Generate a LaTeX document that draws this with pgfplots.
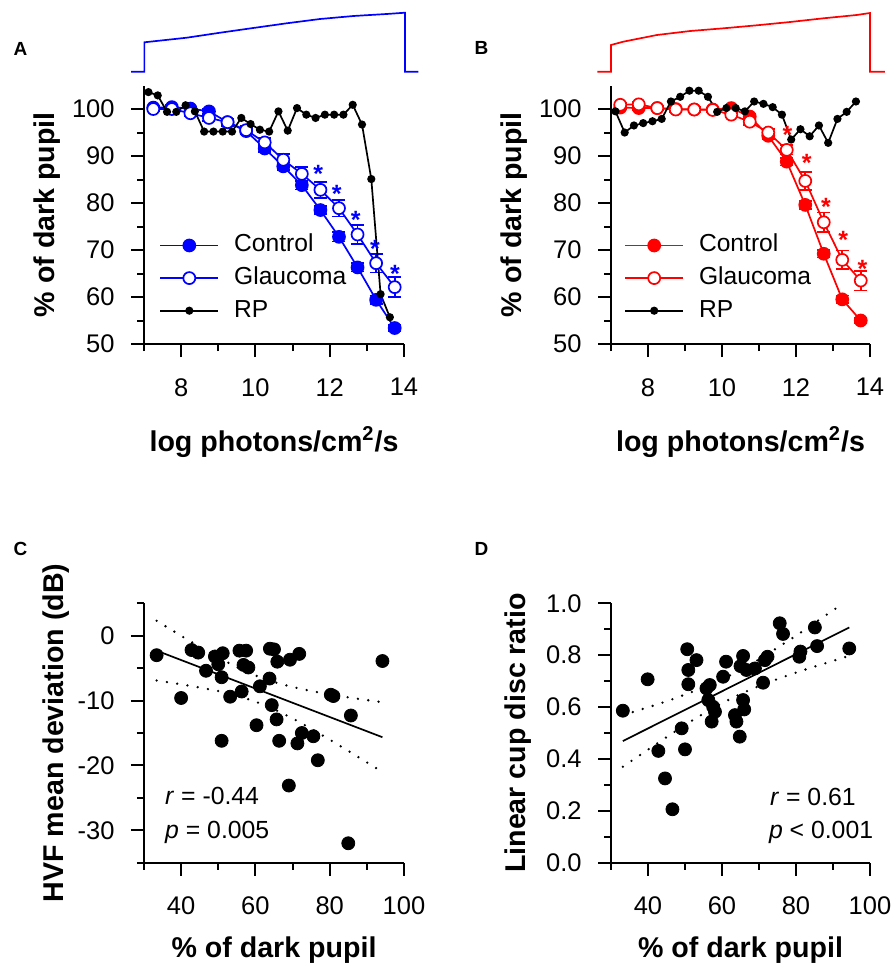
\documentclass[border=0pt]{standalone}
\usepackage{fontspec}
\setmainfont{Liberation Sans}
\usepackage{pgfplots}
\pgfplotsset{compat=1.18}

\definecolor{pblue}{RGB}{0,0,255}
\definecolor{pred}{RGB}{255,0,0}

\tikzset{
  note/.style={anchor=base west, font=\fontsize{12.4}{15}\selectfont},
  letter/.style={font=\fontsize{9.5}{11}\selectfont\bfseries},
}

% 1 px of the reference = 0.5pt
\pgfplotsset{
  panel/.style={
    scale only axis, clip=false,
    axis lines=left,
    axis line style={-, line width=1pt},
    tick align=outside,
    major tick length=6.5pt, minor tick length=3.5pt,
    tick style={black, line width=1pt},
    tick label style={font=\fontsize{12.75}{15}\selectfont, inner sep=0pt},
    xticklabel shift=10.5pt, yticklabel shift=8pt,
    /pgf/number format/assume math mode=true,
    every axis y label/.style={at={(axis description cs:0,0.5)},
      anchor=center, inner sep=0pt, font=\fontsize{14.3}{17}\selectfont\bfseries},
    every axis x label/.style={at={(axis description cs:0.5,0)},
      anchor=base, inner sep=0pt, font=\fontsize{14.3}{17}\selectfont\bfseries},
  },
  toppanel/.style={panel,
    xmin=7, xmax=14, ymin=50, ymax=105,
    xtick={8,10,12,14}, minor xtick={7,9,11,13},
    ytick={50,60,...,100}, minor ytick={55,65,...,95},
    xlabel={log photons/cm\textsuperscript{2}/s},
    ylabel={\% of dark pupil},
    xlabel style={yshift=-53.5pt}, ylabel style={xshift=-48.25pt, rotate=90},
    legend style={draw=none, fill=none, anchor=west, inner sep=0pt,
      font=\fontsize{12.3}{14}\selectfont, row sep=4.8pt,
      nodes={inner sep=0pt, text height=9pt, text depth=2.5pt},
      /tikz/every odd column/.append style={column sep=7.5pt}},
    legend cell align=left,
    legend image code/.code={\draw[mark repeat=2,mark phase=2,##1]
      plot coordinates {(0pt,0pt) (14.5pt,0pt) (29pt,0pt)};},
  },
  botpanel/.style={panel,
    xmin=30, xmax=100,
    xtick={40,60,80,100}, minor xtick={30,50,70,90},
    xlabel={\% of dark pupil}, xlabel style={yshift=-47.15pt},
  },
  trace/.style={scale only axis, hide axis, clip=false,
    xmin=7, xmax=14, ymin=0, ymax=59, height=29.5pt},
  ebar/.style={forget plot, draw=none, mark=none,
    error bars/.cd, y dir=both, y explicit,
    error bar style={draw=#1, solid, line width=0.85pt},
    error mark options={rotate=90, draw=#1, mark size=3.25pt, line width=0.85pt}},
  ctrl/.style={#1, line width=0.85pt, mark=*, mark size=3pt,
    mark options={fill=#1, line width=0.85pt}},
  glau/.style={#1, line width=0.85pt, mark=*, mark size=3pt,
    mark options={fill=white, line width=0.85pt}},
  rp/.style={black, line width=0.85pt, mark=*, mark size=1.6pt},
  star/.style={only marks, mark=text, text mark={*}, text mark as node=true,
    text mark style={font=\fontsize{12.5}{14}\selectfont\bfseries, text=#1,
      anchor=center, inner sep=0pt, yshift=-2.8pt}},
  band/.style={black, line width=1.3pt, dash pattern=on 0pt off 5.2pt, line cap=round},
}

\pgfplotstableread{
x y e
7.25 100.3 0.4
7.75 100.4 0.4
8.25 100.1 0.4
8.75 99.5 0.5
9.25 97.2 0.5
9.75 95.3 0.6
10.25 91.6 0.7
10.75 87.8 0.8
11.25 83.8 0.9
11.75 78.5 0.9
12.25 72.8 1.0
12.75 66.3 0.9
13.25 59.4 0.9
13.75 53.4 0.7
}\ctrlA
\pgfplotstableread{
x y e
7.25 100.0 0.5
7.75 100.0 0.5
8.25 99.1 0.6
8.75 98.1 0.7
9.25 97.2 0.8
9.75 95.5 0.9
10.25 92.9 1.0
10.75 89.2 1.3
11.25 86.2 1.5
11.75 82.8 1.7
12.25 78.9 1.8
12.75 73.3 2.0
13.25 67.2 2.0
13.75 62.1 2.1
}\glauA
\pgfplotstableread{
x y
7.12 103.6
7.37 102.9
7.62 99.4
7.87 99.4
8.12 100.8
8.37 99.5
8.62 95.2
8.87 95.2
9.12 95.2
9.37 95.2
9.62 98.1
9.87 96.8
10.12 95.6
10.37 95.2
10.62 99.5
10.87 95.4
11.12 100.2
11.37 98.8
11.62 98.1
11.87 98.8
12.12 98.8
12.37 98.8
12.62 100.9
12.87 96.7
13.12 85.1
13.37 60.6
13.62 55.7
}\rpA
\pgfplotstableread{
x y e
7.25 100.3 0.4
7.75 100.2 0.4
8.25 100.2 0.4
8.75 100.0 0.4
9.25 99.9 0.4
9.75 99.9 0.4
10.25 100.2 0.5
10.75 98.4 0.5
11.25 94.3 0.7
11.75 88.8 0.8
12.25 79.6 0.8
12.75 69.2 0.8
13.25 59.5 0.8
13.75 55.0 0.6
}\ctrlB
\pgfplotstableread{
x y e
7.25 100.9 0.5
7.75 101.0 0.5
8.25 100.2 0.5
8.75 99.9 0.5
9.25 99.9 0.5
9.75 99.8 0.5
10.25 98.8 0.6
10.75 97.3 0.7
11.25 95.0 0.8
11.75 91.3 1.0
12.25 84.7 1.9
12.75 75.9 2.1
13.25 67.9 2.0
13.75 63.5 2.1
}\glauB
\pgfplotstableread{
x y
7.12 99.5
7.37 95.0
7.62 96.5
7.87 97.0
8.12 97.4
8.37 97.9
8.62 101.6
8.87 102.6
9.12 103.9
9.37 103.9
9.62 102.6
9.87 99.4
10.12 100.2
10.37 100.2
10.62 99.5
10.87 101.6
11.12 101.1
11.37 100.4
11.62 98.8
11.87 93.5
12.12 95.7
12.37 94.2
12.62 96.5
12.87 92.8
13.12 97.9
13.37 99.4
13.62 101.6
}\rpB
\pgfplotstableread{
x y
33.4 -3.0
40.0 -9.6
42.8 -2.2
44.6 -2.6
46.7 -5.4
49.1 -3.2
51.2 -2.7
50.0 -4.4
50.9 -6.4
50.9 -16.2
53.2 -9.4
55.7 -2.3
57.5 -2.3
56.8 -4.5
58.1 -4.9
56.3 -8.6
60.3 -13.8
61.2 -7.8
63.8 -6.6
63.9 -2.0
65.0 -2.1
64.4 -10.7
65.7 -12.9
65.9 -4.0
66.4 -16.2
69.3 -3.7
71.8 -2.8
69.0 -23.1
72.5 -15.0
71.3 -16.6
75.6 -15.5
76.8 -19.2
80.3 -9.1
81.0 -9.3
85.7 -12.3
85.0 -32.0
94.2 -3.9
}\hvf
\pgfplotstableread{
x y
33.2 0.586
39.9 0.707
42.8 0.431
44.6 0.325
46.6 0.206
49.1 0.518
50.0 0.437
50.6 0.823
53.1 0.781
50.9 0.743
50.9 0.688
55.8 0.672
56.7 0.685
56.3 0.627
57.6 0.601
58.1 0.582
57.2 0.544
60.3 0.717
61.1 0.775
63.5 0.569
63.9 0.544
64.8 0.486
65.7 0.627
66.0 0.591
65.7 0.797
65.0 0.758
66.6 0.743
68.9 0.749
71.1 0.694
71.6 0.781
72.3 0.794
75.6 0.923
76.5 0.882
80.9 0.794
81.2 0.814
85.1 0.907
85.7 0.835
94.4 0.826
}\cdr

\begin{document}
\begin{tikzpicture}
\path[use as bounding box] (0,0) rectangle (447.5pt,-482.5pt);

\node[letter] at (10.25pt,-24.5pt) {A};
\node[letter] at (240.75pt,-23.75pt) {B};
\node[letter] at (10.25pt,-274.35pt) {C};
\node[letter] at (240.75pt,-274.35pt) {D};

% stimulus traces
\begin{axis}[trace, at={(72pt,-35.85pt)}, anchor=south west, width=130pt]
\addplot[pblue, line width=0.85pt] coordinates {
(6.65,0) (7.01,0) (7.01,29.4) (8.15,34) (9.05,39) (9.94,43.7) (10.84,48.4)
(11.74,52.7) (12.64,55.7) (13.53,57.7) (14.03,59) (14.03,0) (14.39,0)};
\end{axis}
\begin{axis}[trace, at={(305.5pt,-35.85pt)}, anchor=south west, width=129.5pt]
\addplot[pred, line width=0.85pt] coordinates {
(6.63,0) (7,0) (7,26.7) (7.33,30) (8.24,36.7) (9.14,40.7) (10.04,43.4)
(10.94,46.4) (11.84,49.7) (12.74,53.4) (13.64,56.7) (14,58.7) (14,0) (14.4,0)};
\end{axis}

% panel A
\begin{axis}[toppanel, at={(72pt,-172pt)}, anchor=south west,
  width=130pt, height=129.25pt,
  legend style={at={(0.058,0.255)}}]
\addplot[ebar=pblue] table[x=x, y=y, y error=e] {\ctrlA};
\addplot[ctrl=pblue] table[x=x, y=y] {\ctrlA};
\addlegendentry{Control}
\addplot[ebar=pblue] table[x=x, y=y, y error=e] {\glauA};
\addplot[glau=pblue] table[x=x, y=y] {\glauA};
\addlegendentry{Glaucoma}
\addplot[rp] table[x=x, y=y] {\rpA};
\addlegendentry{RP}
\addplot[star=pblue, forget plot] coordinates {
(11.69,87.4) (12.19,83.2) (12.70,77.5) (13.22,71.5) (13.76,66.2)};
\end{axis}

% panel B
\begin{axis}[toppanel, at={(305.5pt,-172pt)}, anchor=south west,
  width=129.5pt, height=129.25pt,
  legend style={at={(0.05,0.255)}}]
\addplot[ebar=pred] table[x=x, y=y, y error=e] {\ctrlB};
\addplot[ctrl=pred] table[x=x, y=y] {\ctrlB};
\addlegendentry{Control}
\addplot[ebar=pred] table[x=x, y=y, y error=e] {\glauB};
\addplot[glau=pred] table[x=x, y=y] {\glauB};
\addlegendentry{Glaucoma}
\addplot[rp] table[x=x, y=y] {\rpB};
\addlegendentry{RP}
\addplot[star=pred, forget plot] coordinates {
(11.77,95.6) (12.29,89.8) (12.81,80.4) (13.28,73.3) (13.80,67.2)};
\end{axis}

% panel C
\begin{axis}[botpanel, at={(72pt,-431.35pt)}, anchor=south west,
  width=130pt, height=129.7pt,
  ymin=-35, ymax=5,
  ytick={-30,-20,-10,0}, minor ytick={-35,-25,-15,-5,5},
  ylabel={HVF mean deviation (dB)},
  ylabel style={xshift=-43.75pt, rotate=90}]
\addplot[band] coordinates {(33.4,2.3) (40,-0.01) (45,-1.72) (50,-3.35) (55,-4.85)
  (60,-6.13) (65,-7.15) (70,-7.92) (75,-8.53) (80,-9.04) (85,-9.5) (90,-9.92) (94.2,-10.26)};
\addplot[band] coordinates {(33.4,-6.9) (40,-7.49) (45,-7.98) (50,-8.53) (55,-9.23)
  (60,-10.15) (65,-11.33) (70,-12.74) (75,-14.33) (80,-16.02) (85,-17.76) (90,-19.52) (94.2,-21.02)};
\addplot[black, line width=0.85pt] coordinates {(33.4,-2.3) (94.2,-15.65)};
\addplot[only marks, mark=*, mark size=3.25pt, black] table[x=x, y=y] {\hvf};
\node[note] at (axis cs:33.8,-26.1) {\textit{r} = -0.44};
\node[note] at (axis cs:33.8,-31.2) {\textit{p} = 0.005};
\end{axis}

% panel D
\begin{axis}[botpanel, at={(305.5pt,-431.35pt)}, anchor=south west,
  width=129.5pt, height=129.7pt,
  ymin=0, ymax=1,
  ytick={0,0.2,...,1.0}, minor ytick={0.1,0.3,0.5,0.7,0.9},
  yticklabel style={/pgf/number format/.cd, fixed, fixed zerofill, precision=1},
  ylabel={Linear cup disc ratio},
  ylabel style={xshift=-46.25pt, rotate=90}]
\addplot[band] coordinates {(33.2,0.569) (40,0.599) (45,0.622) (50,0.648) (55,0.675)
  (60,0.706) (65,0.743) (70,0.784) (75,0.829) (80,0.875) (85,0.924) (90,0.973) (93,1.0)};
\addplot[band] coordinates {(33.2,0.370) (40,0.436) (45,0.484) (50,0.531) (55,0.575)
  (60,0.615) (65,0.651) (70,0.681) (75,0.708) (80,0.733) (85,0.756) (90,0.778) (94.4,0.798)};
\addplot[black, line width=0.85pt] coordinates {(33.2,0.469) (94.4,0.907)};
\addplot[only marks, mark=*, mark size=3.25pt, black] table[x=x, y=y] {\cdr};
\node[note] at (axis cs:71.1,0.222) {\textit{r} = 0.61};
\node[note] at (axis cs:70.8,0.095) {\textit{p} < 0.001};
\end{axis}
\end{tikzpicture}
\end{document}
